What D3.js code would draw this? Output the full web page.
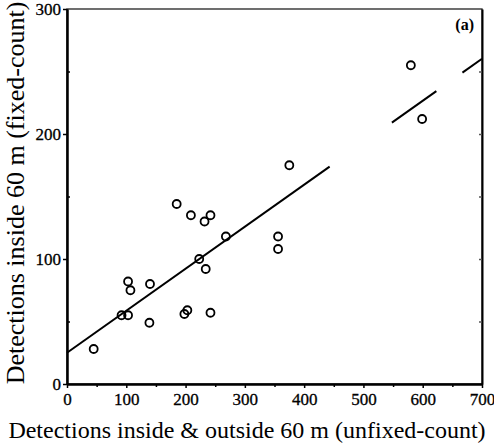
<!DOCTYPE html>
<html>
<head>
<meta charset="utf-8">
<script src="https://cdn.jsdelivr.net/npm/d3@7"></script>
<style>
	body { margin: 0; background: #fff; }
	svg { display: block; }
</style>
</head>
<body>
<svg id="chart" width="494" height="444"></svg>
<script>

// unfixed-count (x) vs fixed-count (y) detections
var unfixedCount = [45, 92, 103, 103, 107, 140, 139, 198, 203, 223, 185, 209, 232, 242, 268, 234, 242, 356, 356, 375, 580, 599];
var fixedCount   = [28, 55, 55, 82, 75, 80, 49, 56, 59, 100, 144, 135, 130, 135, 118, 92, 57, 118, 108, 175, 255, 212];

var xTicks = [0, 100, 200, 300, 400, 500, 600, 700];
var yTicks = [0, 100, 200, 300];
var xMinorTicks = [50, 150, 250, 350, 450, 550, 650];
var yMinorTicks = [50, 150, 250];

// fitted line y = a + b*x, drawn in broken pieces like the print
var fitIntercept = 25;
var fitSlope = 0.336;
var fitPieces = [[0, 443], [548, 623], [667, 700]];

var FONT = "'Liberation Serif', 'DejaVu Serif', serif";

var svg = d3.select('#chart');
var plotLeft = 67, plotRight = 482, plotTop = 9, plotBottom = 384;

var x = d3.scaleLinear().domain([0, 700]).range([plotLeft, plotRight]);
var y = d3.scaleLinear().domain([0, 300]).range([plotBottom, plotTop]);

// frame
svg.append('rect')
	.attr('x', plotLeft).attr('y', plotTop)
	.attr('width', plotRight - plotLeft).attr('height', plotBottom - plotTop)
	.attr('fill', 'none')
	.attr('stroke', '#222')
	.attr('stroke-width', 1.3);

// bottom axis
svg.append('g')
	.attr('transform', 'translate(0,' + plotBottom + ')')
	.call(d3.axisBottom(x).tickValues(xTicks).tickSize(4).tickSizeOuter(0).tickPadding(5));
svg.append('g')
	.attr('transform', 'translate(0,' + plotBottom + ')')
	.call(d3.axisBottom(x).tickValues(xMinorTicks).tickSize(3).tickFormat('').tickSizeOuter(0));

// left axis
svg.append('g')
	.attr('transform', 'translate(' + plotLeft + ',0)')
	.call(d3.axisLeft(y).tickValues(yTicks).tickSize(4).tickSizeOuter(0).tickPadding(2));
svg.append('g')
	.attr('transform', 'translate(' + plotLeft + ',0)')
	.call(d3.axisRight(y).tickValues(yMinorTicks).tickSize(3).tickFormat('').tickSizeOuter(0));

// right side small inward ticks
svg.append('g')
	.attr('transform', 'translate(' + plotRight + ',0)')
	.call(d3.axisLeft(y).tickValues(yMinorTicks.concat([100, 200])).tickSize(3).tickFormat('').tickSizeOuter(0))
	.selectAll('line').attr('stroke', '#555');

svg.selectAll('.domain').attr('stroke', '#000').attr('stroke-width', 2);
svg.selectAll('.tick line').attr('stroke-width', 1.5);
svg.selectAll('.tick text')
	.attr('font-family', FONT)
	.attr('font-size', 17)
	.attr('fill', '#000')
	.attr('stroke', '#000')
	.attr('stroke-width', 0.3);

// fit line
svg.selectAll('line.fit')
	.data(fitPieces)
	.enter().append('line')
	.attr('class', 'fit')
	.attr('x1', function(d) { return x(d[0]); })
	.attr('y1', function(d) { return y(fitIntercept + fitSlope * d[0]); })
	.attr('x2', function(d) { return x(d[1]); })
	.attr('y2', function(d) { return y(fitIntercept + fitSlope * d[1]); })
	.attr('stroke', '#000')
	.attr('stroke-width', 2);

// points
svg.selectAll('circle.pt')
	.data(d3.range(unfixedCount.length))
	.enter().append('circle')
	.attr('class', 'pt')
	.attr('cx', function(i) { return x(unfixedCount[i]); })
	.attr('cy', function(i) { return y(fixedCount[i]); })
	.attr('r', 4)
	.attr('fill', 'none')
	.attr('stroke', '#000')
	.attr('stroke-width', 1.8);

// panel letter
svg.append('text')
	.attr('x', 474).attr('y', 30)
	.attr('text-anchor', 'end')
	.attr('font-family', FONT)
	.attr('font-weight', 'bold')
	.attr('font-size', 16)
	.text('(a)');

// axis titles
svg.append('text')
	.attr('x', 247).attr('y', 438)
	.attr('text-anchor', 'middle')
	.attr('font-family', FONT)
	.attr('font-size', 24)
	.text('Detections inside & outside 60 m (unfixed-count)');

svg.append('text')
	.attr('transform', 'translate(24,193) rotate(-90)')
	.attr('text-anchor', 'middle')
	.attr('font-family', FONT)
	.attr('font-size', 26)
	.text('Detections inside 60 m (fixed-count)');

</script>
</body>
</html>
